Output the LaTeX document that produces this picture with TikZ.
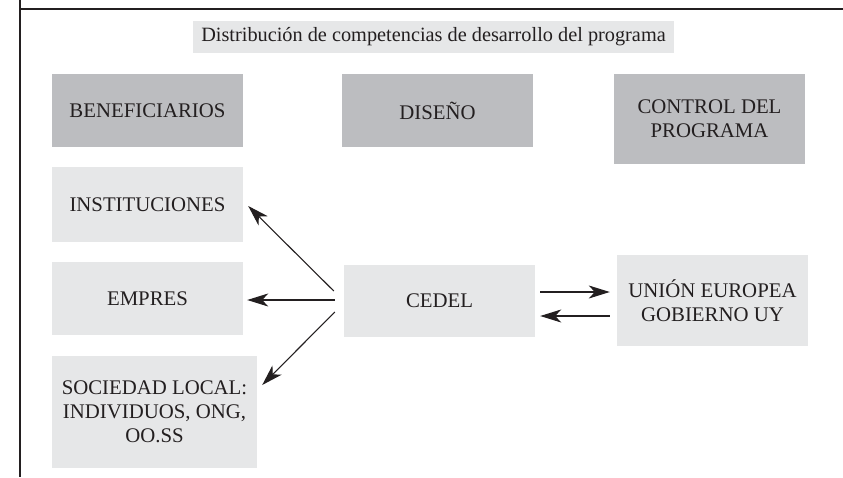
\documentclass[tikz,border=0pt]{standalone}
\usepackage{fontspec}
\setmainfont{Liberation Serif}
\usetikzlibrary{arrows.meta}
\definecolor{darkbox}{HTML}{BCBDC0}
\definecolor{lightbox}{HTML}{E6E7E8}
\definecolor{ink}{HTML}{231F20}
\begin{document}
\begin{tikzpicture}[x=1pt,y=-1pt,
  box/.style={rectangle, inner sep=0pt, align=center, text=ink, font=\fontsize{20.8}{24}\selectfont},
  darkb/.style={box, fill=darkbox},
  lightb/.style={box, fill=lightbox},
  arr/.style={draw=ink, line width=1.1pt, -{Stealth[length=21pt,width=13pt,inset=6pt]}}]
\useasboundingbox (0,0) rectangle (843,477);
\draw[ink, line width=1.4pt] (20,0) -- (20,477);
\draw[ink, line width=1.4pt] (20,9) -- (843,9);
\node[lightb, minimum width=481pt, minimum height=32pt, font=\fontsize{20.3}{23}\selectfont] (title) at (433.5,37) {Distribución de competencias de desarrollo del programa};
\node[darkb, minimum width=191pt, minimum height=73pt] (benef) at (147.5,110.5) {BENEFICIARIOS};
\node[darkb, minimum width=191pt, minimum height=73pt] (diseno) at (437.5,110.5) {DISEÑO};
\node[darkb, minimum width=191pt, minimum height=90pt] (control) at (709.5,119) {CONTROL DEL\\PROGRAMA};
\node[lightb, minimum width=191pt, minimum height=75pt] (instit) at (147.5,204.5) {INSTITUCIONES};
\node[lightb, minimum width=191pt, minimum height=73pt] (empres) at (147.5,298.5) {EMPRES};
\node[lightb, minimum width=205pt, minimum height=112pt] (socied) at (154.5,412) {SOCIEDAD LOCAL:\\INDIVIDUOS, ONG,\\OO.SS};
\node[lightb, minimum width=191pt, minimum height=72pt] (cedel) at (439.5,301) {CEDEL};
\node[lightb, minimum width=191pt, minimum height=91pt] (union) at (712.5,300.5) {UNIÓN EUROPEA\\GOBIERNO UY};
\coordinate (c1) at ([xshift=-10pt,yshift=10pt]cedel.west);
\coordinate (c2) at ([xshift=-9pt,yshift=1pt]cedel.west);
\coordinate (c3) at ([xshift=-9pt,yshift=-11pt]cedel.west);
\coordinate (t1) at ([xshift=5pt,yshift=-1.5pt]instit.east);
\coordinate (t2) at ([xshift=4pt,yshift=-1.5pt]empres.east);
\coordinate (t3) at ([xshift=5pt,yshift=27pt]socied.east);
\draw[arr] (c1) -- (t1);
\draw[arr] (c2) -- (t2);
\draw[arr] (c3) -- (t3);
\coordinate (r1) at ([xshift=5pt,yshift=9pt]cedel.east);
\coordinate (r2) at ([xshift=-7pt,yshift=8.5pt]union.west);
\coordinate (r3) at ([xshift=-7pt,yshift=-15.5pt]union.west);
\coordinate (r4) at ([xshift=5pt,yshift=-15pt]cedel.east);
\draw[arr] (r1) -- (r2);
\draw[arr] (r3) -- (r4);
\end{tikzpicture}
\end{document}
